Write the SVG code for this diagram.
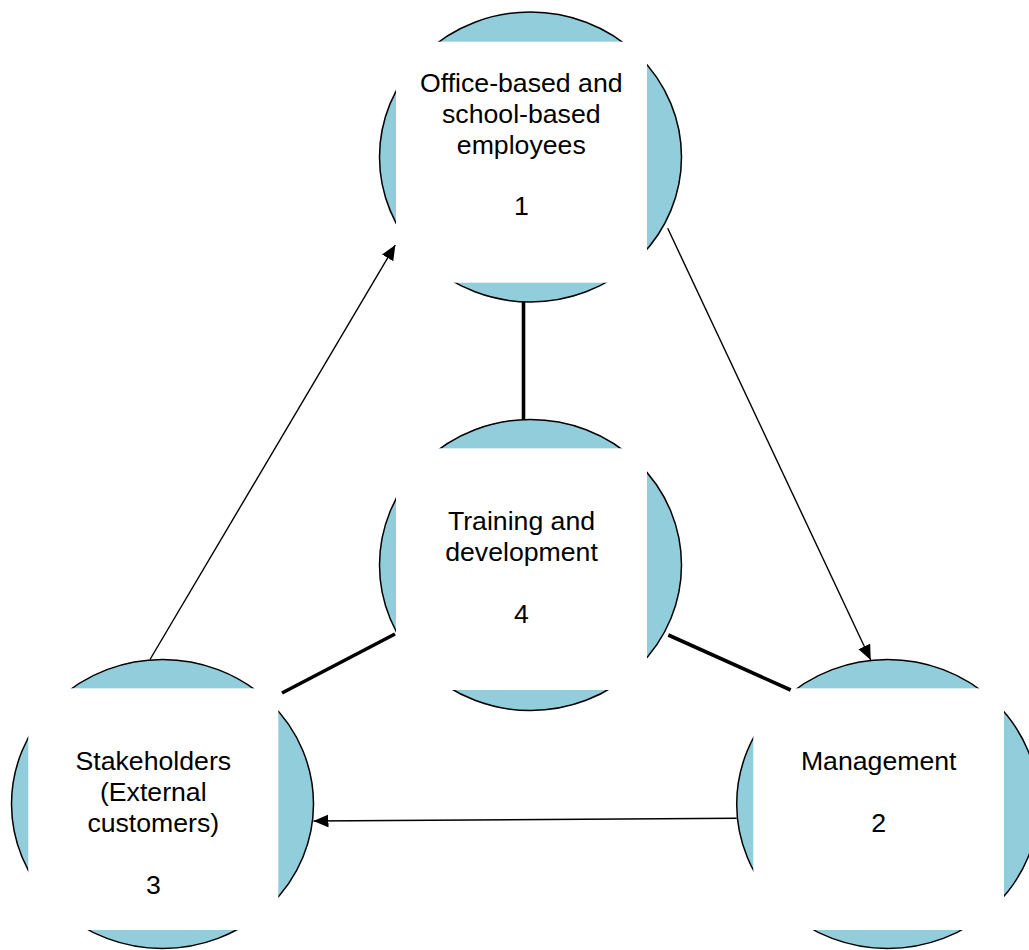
<svg xmlns="http://www.w3.org/2000/svg" width="1029" height="950" viewBox="0 0 1029 950">
<style>
.circ{fill:#92CDDC;stroke:#000;stroke-width:1.5}
.box{fill:#fff;stroke:none}
.lbl{font-family:"Liberation Sans",Arial,sans-serif;font-size:26.67px;fill:#000;text-anchor:middle}
.thin{stroke:#000;stroke-width:1.4;fill:none}
.thick{stroke:#000;stroke-width:3.6;fill:none}
</style>
<defs>
<marker id="arr" markerUnits="userSpaceOnUse" markerWidth="16" markerHeight="14" refX="15" refY="6.5" orient="auto">
<path d="M0,0 L15,6.5 L0,13 z" fill="#000"/>
</marker>
</defs>
<rect width="1029" height="950" fill="#fff"/>
<g id="node1">
<ellipse class="circ" cx="530.5" cy="157" rx="151" ry="145"/>
<rect class="box" x="396" y="41.7" width="251" height="241"/>
<text class="lbl" x="521.3" y="92">Office-based and</text>
<text class="lbl" x="521.3" y="123">school-based</text>
<text class="lbl" x="521.3" y="154">employees</text>
<text class="lbl" x="521.3" y="215">1</text>
</g>
<g id="node4">
<ellipse class="circ" cx="530.5" cy="565" rx="151" ry="145.5"/>
<rect class="box" x="396" y="448.3" width="251" height="241.7"/>
<text class="lbl" x="521.5" y="530">Training and</text>
<text class="lbl" x="521.5" y="561">development</text>
<text class="lbl" x="521.5" y="623">4</text>
</g>
<g id="node3">
<ellipse class="circ" cx="162.5" cy="804" rx="151" ry="144.5"/>
<rect class="box" x="28.3" y="688.3" width="250" height="241.7"/>
<text class="lbl" x="153.3" y="770">Stakeholders</text>
<text class="lbl" x="153.3" y="801">(External</text>
<text class="lbl" x="153.3" y="832">customers)</text>
<text class="lbl" x="153.3" y="894">3</text>
</g>
<g id="node2">
<ellipse class="circ" cx="887.7" cy="804" rx="151" ry="144.5"/>
<rect class="box" x="753.3" y="688.3" width="250.7" height="241.7"/>
<text class="lbl" x="878.7" y="770">Management</text>
<text class="lbl" x="878.7" y="832">2</text>
</g>
<g id="connectors">
<line class="thin" x1="150" y1="659.5" x2="395.3" y2="245" marker-end="url(#arr)"/>
<line class="thin" x1="667.7" y1="228.3" x2="870.7" y2="660" marker-end="url(#arr)"/>
<line class="thin" x1="736.7" y1="818.3" x2="313.5" y2="821" marker-end="url(#arr)"/>
<line class="thick" x1="523.5" y1="302" x2="523.5" y2="419.5"/>
<line class="thick" x1="395" y1="634" x2="282" y2="693"/>
<line class="thick" x1="668.3" y1="635" x2="790.7" y2="690"/>
</g>
</svg>
